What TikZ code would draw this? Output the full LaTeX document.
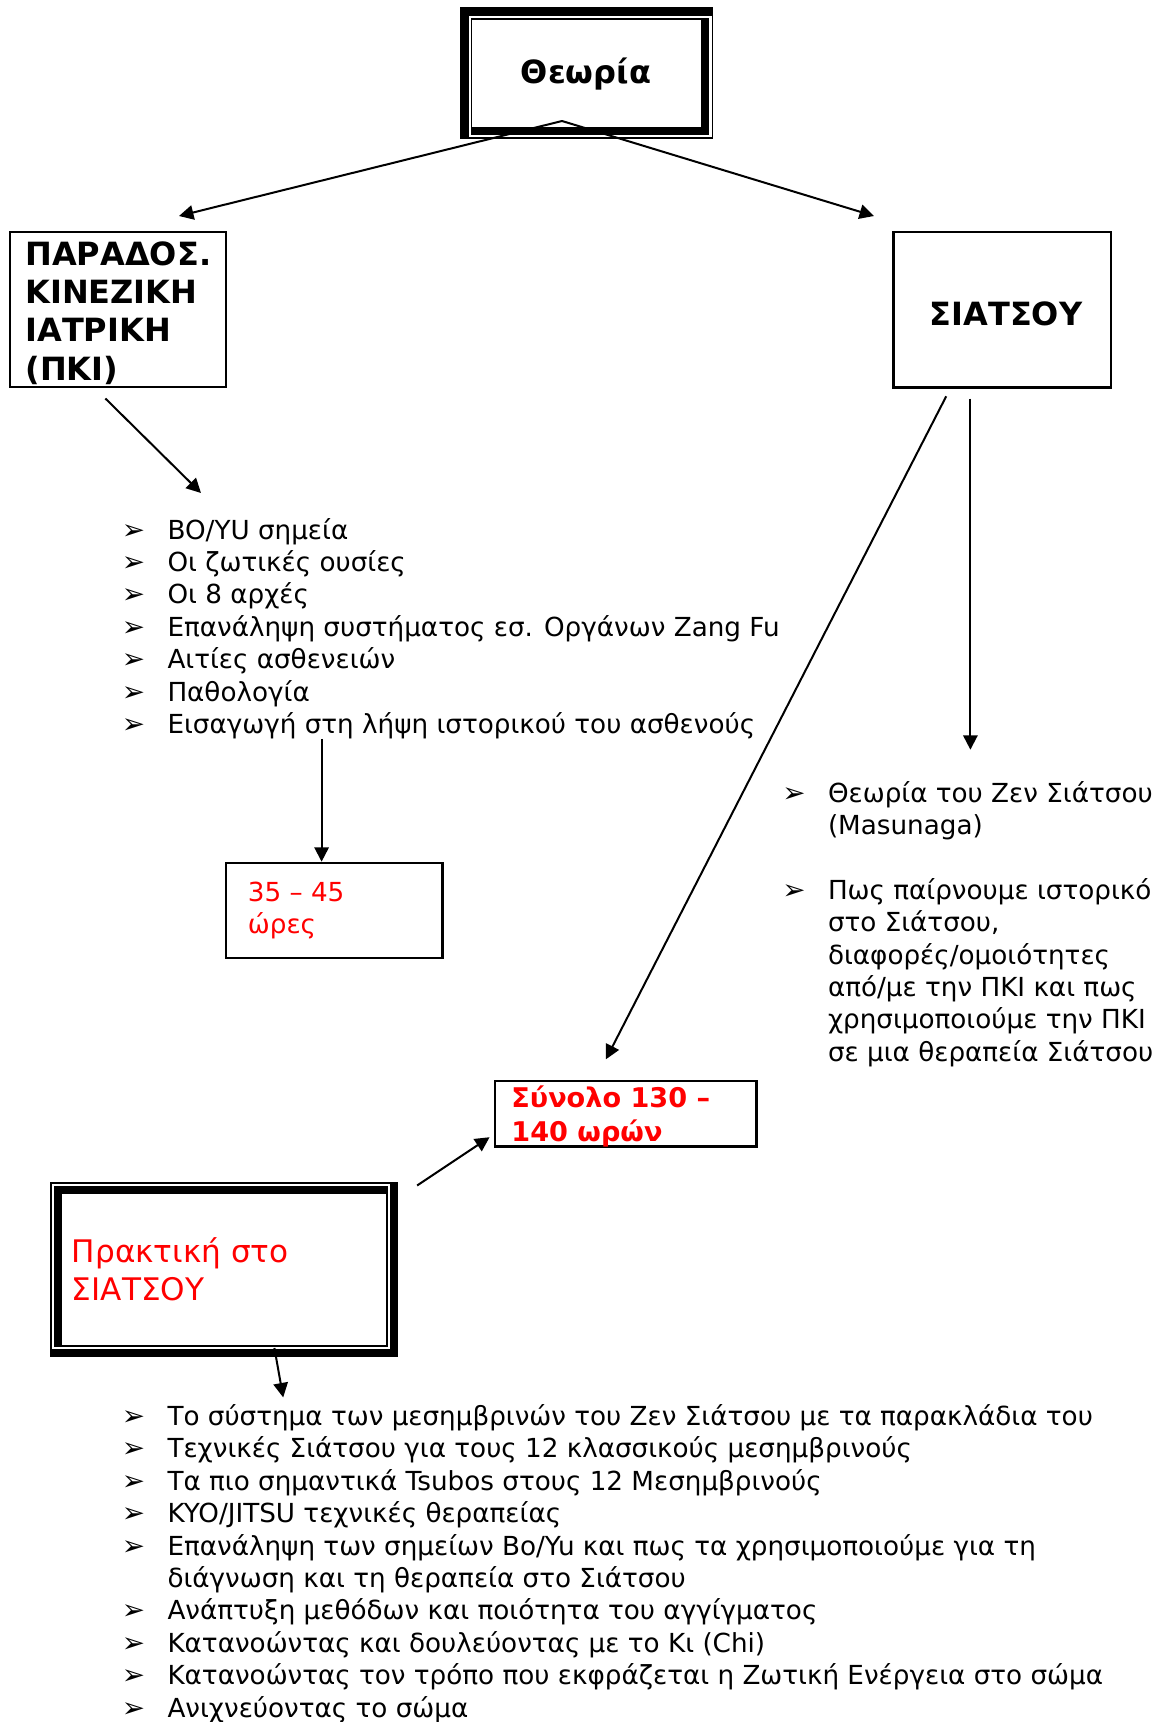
\documentclass[tikz,border=0pt]{standalone}
\usepackage{fontspec}
\setmainfont{DejaVu Sans}
\usetikzlibrary{arrows.meta,fit,calc}
\definecolor{myred}{RGB}{255,0,0}
\newcommand{\bul}{{\fontsize{12.5}{12.5}\selectfont ➢}}
\begin{document}
\begin{tikzpicture}[x=0.45pt,y=-0.45pt,
  box/.style={draw, line width=1pt, inner sep=0pt},
  frame/.style={inner sep=0pt},
  arr/.style={line width=0.9pt, -{Triangle[length=6.5pt,width=6.5pt]}},
  txt/.style={inner sep=0pt, anchor=base west},
  body/.style={font=\fontsize{11.8}{14.58}\selectfont},
  big/.style={font=\fontsize{14}{17.3}\selectfont},
  bigb/.style={font=\fontsize{14.4}{17.3}\selectfont\bfseries}]
\useasboundingbox (0,0) rectangle (1157,1722);

% ---------- Theoria double frame ----------
\node[frame, fit={(460,7)(713,138.5)}] (theoria) {};
\fill (460,7) rectangle (713,16);
\fill (460,7) rectangle (469,138.5);
\fill (460,137) rectangle (713,138.5);
\fill (711.5,7) rectangle (713,138.5);
\fill (470.5,18) rectangle (709,19.5);
\fill (470.5,18) rectangle (472,135);
\fill (470.5,126.5) rectangle (709,135);
\fill (700.5,18) rectangle (709,135);
\node[inner sep=0pt, bigb] (theoriaT) at (586,74) {Θεωρία};

% ---------- PKI box ----------
\node[box, fit={(10,232)(226,387)}] (pki) {};
\node[txt, bigb] (pkiT) at (25,265) {\begin{tabular}[t]{@{}l@{}}ΠΑΡΑΔΟΣ.\\ ΚΙΝΕΖΙΚΗ\\ ΙΑΤΡΙΚΗ\\ (ΠΚΙ)\end{tabular}};

% ---------- SIATSOU box ----------
\node[box, fit={(893.5,232)(1111,387.5)}] (siatsou) {};
\node[inner sep=0pt, bigb] (siatsouT) at (1006,314) {ΣΙΑΤΣΟΥ};

% ---------- arrows from Theoria ----------
\coordinate (apex) at (562,121);
\coordinate (tipL) at (179,216);
\coordinate (tipR) at (874,216);
\draw[arr] (apex) -- (tipL);
\draw[arr] (apex) -- (tipR);

% ---------- top list ----------
\coordinate (pkiA) at (105.4,398.5);
\coordinate (listA) at (201,493);
\draw[arr] (pkiA) -- (listA);
\node[txt, body] (list1) at (121.5,539) {\begin{tabular}[t]{@{}p{20.5pt}@{}l@{}}
\bul & BO/YU σημεία\\
\bul & Οι ζωτικές ουσίες\\
\bul & Οι 8 αρχές\\
\bul & Επανάληψη συστήματος εσ. Οργάνων Zang Fu\\
\bul & Αιτίες ασθενειών\\
\bul & Παθολογία\\
\bul & Εισαγωγή στη λήψη ιστορικού του ασθενούς
\end{tabular}};

% ---------- hours box ----------
\node[box, fit={(226,862.8)(442.4,958.3)}] (hours) {};
\node[txt, body, text=myred] (hoursT) at (247.5,901.5) {\begin{tabular}[t]{@{}l@{}}35 – 45\\ ώρες\end{tabular}};
\coordinate (list1A) at (321.6,738.8);
\draw[arr] (list1A) -- (hours.north -| list1A);

% ---------- SIATSOU arrows ----------
\coordinate (siaA) at (946.2,396.3);
\coordinate (siaB) at (970.4,398.5);
\coordinate (totalA) at (605.9,1059.3);
\coordinate (list2A) at (970.4,749.7);
\draw[arr] (siaA) -- (totalA);
\draw[arr] (siaB) -- (list2A);

% ---------- right list ----------
\node[txt, body] (list2) at (782,802) {\begin{tabular}[t]{@{}p{20.5pt}@{}l@{}}
\bul & Θεωρία του Ζεν Σιάτσου\\
 & (Masunaga)\\
 & \\
\bul & Πως παίρνουμε ιστορικό\\
 & στο Σιάτσου,\\
 & διαφορές/ομοιότητες\\
 & από/με την ΠΚΙ και πως\\
 & χρησιμοποιούμε την ΠΚΙ\\
 & σε μια θεραπεία Σιάτσου
\end{tabular}};

% ---------- total box ----------
\node[box, fit={(495,1081)(756.5,1146.5)}] (total) {};
\node[txt, font=\fontsize{12.2}{15.3}\selectfont\bfseries, text=myred] (totalT) at (511,1107) {\begin{tabular}[t]{@{}l@{}}Σύνολο 130 –\\ 140 ωρών\end{tabular}};

% ---------- Praktiki double frame ----------
\node[frame, fit={(50,1182)(398,1357)}] (praktiki) {};
\fill (50,1182) rectangle (398,1183.5);
\fill (50,1182) rectangle (51.5,1357);
\fill (389.5,1182) rectangle (398,1357);
\fill (50,1348.5) rectangle (398,1357);
\fill (53.5,1185.5) rectangle (387.5,1194);
\fill (53.5,1185.5) rectangle (62,1346.5);
\fill (386,1185.5) rectangle (387.5,1346.5);
\fill (53.5,1345) rectangle (387.5,1346.5);
\node[txt, big, text=myred] (praktikiT) at (71.5,1262) {\begin{tabular}[t]{@{}l@{}}Πρακτική στο\\ ΣΙΑΤΣΟΥ\end{tabular}};

\coordinate (prA) at (417.1,1185.5);
\coordinate (totB) at (489.6,1137.2);
\draw[arr] (prA) -- (totB);

\coordinate (prB) at (274.4,1348);
\coordinate (list3A) at (283.2,1397.4);
\draw[arr] (prB) -- (list3A);

% ---------- bottom list ----------
\node[txt, body] (list3) at (121.5,1425.5) {\begin{tabular}[t]{@{}p{20.5pt}@{}l@{}}
\bul & Το σύστημα των μεσημβρινών του Ζεν Σιάτσου με τα παρακλάδια του\\
\bul & Τεχνικές Σιάτσου για τους 12 κλασσικούς μεσημβρινούς\\
\bul & Τα πιο σημαντικά Tsubos στους 12 Μεσημβρινούς\\
\bul & KYO/JITSU τεχνικές θεραπείας\\
\bul & Επανάληψη των σημείων Bo/Yu και πως τα χρησιμοποιούμε για τη\\
 & διάγνωση και τη θεραπεία στο Σιάτσου\\
\bul & Ανάπτυξη μεθόδων και ποιότητα του αγγίγματος\\
\bul & Κατανοώντας και δουλεύοντας με το Κι (Chi)\\
\bul & Κατανοώντας τον τρόπο που εκφράζεται η Ζωτική Ενέργεια στο σώμα\\
\bul & Ανιχνεύοντας το σώμα
\end{tabular}};
\end{tikzpicture}
\end{document}
